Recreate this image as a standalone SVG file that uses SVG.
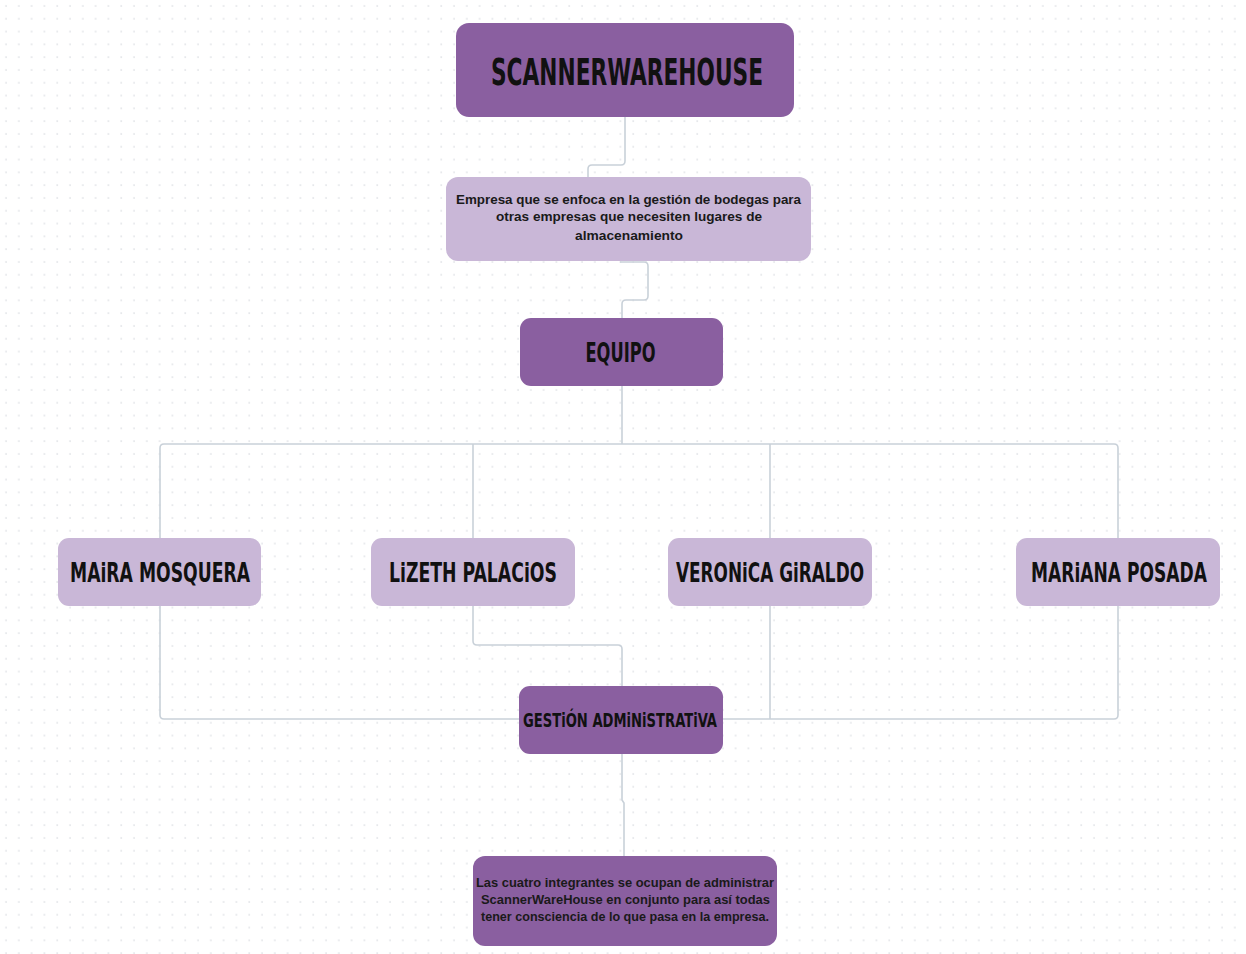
<svg xmlns="http://www.w3.org/2000/svg" width="1246" height="954" viewBox="0 0 1246 954">
<defs>
<pattern id="dots" x="0" y="0" width="12.8" height="12.8" patternUnits="userSpaceOnUse">
<circle cx="6" cy="6" r="0.8" fill="#d3d6dc"/>
</pattern>
<style>
.dark{fill:#8a5fa0}
.light{fill:#c9b7d7}
.lbl{font-family:"DejaVu Sans Condensed","DejaVu Sans",sans-serif;font-weight:bold;fill:#111;text-anchor:middle}
.txt{font-family:"Liberation Sans",Arial,sans-serif;font-weight:bold;font-size:12.5px;fill:#1a1a1a;text-anchor:middle}
.con{fill:none;stroke:#c9d1d9;stroke-width:1.6}
</style>
</defs>
<rect width="1246" height="954" fill="#ffffff"/>
<rect width="1246" height="954" fill="url(#dots)"/>
<g id="connectors">
<path class="con" d="M625,117 V161 Q625,165 621,165 H592 Q588,165 588,169 V177"/>
<path class="con" d="M620,262 H644 Q648,262 648,266 V296 Q648,300 644,300 H626 Q622,300 622,304 V318"/>
<path class="con" d="M622,386 V444"/>
<path class="con" d="M160,538 V448 Q160,444 164,444 H1114 Q1118,444 1118,448 V538"/>
<path class="con" d="M473,444 V538"/>
<path class="con" d="M770,444 V538"/>
<path class="con" d="M473,606 V641 Q473,645 477,645 H618 Q622,645 622,649 V686"/>
<path class="con" d="M160,606 V715 Q160,719 164,719 H519"/>
<path class="con" d="M723,719 H1114 Q1118,719 1118,715 V606"/>
<path class="con" d="M770,606 V719"/>
<path class="con" d="M622,754 V800 L624,803 V856"/>
</g>
<g id="scannerwarehouse">
<rect class="dark" x="456" y="23" width="338" height="94" rx="13"/>
<text class="lbl" x="627" y="85" font-size="38" textLength="272" lengthAdjust="spacingAndGlyphs">SCANNERWAREHOUSE</text>
</g>
<g id="descripcion">
<rect class="light" x="446" y="177" width="365" height="84" rx="12"/>
<text class="txt" x="628.5" y="203.5" textLength="345" lengthAdjust="spacingAndGlyphs">Empresa que se enfoca en la gestión de bodegas para</text>
<text class="txt" x="629" y="221" textLength="266" lengthAdjust="spacingAndGlyphs">otras empresas que necesiten lugares de</text>
<text class="txt" x="629" y="239.5" textLength="108" lengthAdjust="spacingAndGlyphs">almacenamiento</text>
</g>
<g id="equipo">
<rect class="dark" x="520" y="318" width="203" height="68" rx="11"/>
<text class="lbl" x="620.5" y="362" font-size="27" textLength="70" lengthAdjust="spacingAndGlyphs">EQUIPO</text>
</g>
<g id="maira">
<rect class="light" x="58" y="538" width="203" height="68" rx="11"/>
<text class="lbl" x="160" y="582" font-size="26" textLength="180" lengthAdjust="spacingAndGlyphs">MAiRA MOSQUERA</text>
</g>
<g id="lizeth">
<rect class="light" x="371" y="538" width="204" height="68" rx="11"/>
<text class="lbl" x="473" y="582" font-size="26" textLength="168" lengthAdjust="spacingAndGlyphs">LiZETH PALACiOS</text>
</g>
<g id="veronica">
<rect class="light" x="668" y="538" width="204" height="68" rx="11"/>
<text class="lbl" x="770" y="582" font-size="26" textLength="188" lengthAdjust="spacingAndGlyphs">VERONiCA GiRALDO</text>
</g>
<g id="mariana">
<rect class="light" x="1016" y="538" width="204" height="68" rx="11"/>
<text class="lbl" x="1119" y="582" font-size="26" textLength="176" lengthAdjust="spacingAndGlyphs">MARiANA POSADA</text>
</g>
<g id="gestion">
<rect class="dark" x="519" y="686" width="204" height="68" rx="11"/>
<text class="lbl" x="620" y="727" font-size="19" textLength="194" lengthAdjust="spacingAndGlyphs">GESTiÓN ADMiNiSTRATiVA</text>
</g>
<g id="conclusion">
<rect class="dark" x="473" y="856" width="304" height="90" rx="12"/>
<text class="txt" x="625" y="887" textLength="298" lengthAdjust="spacingAndGlyphs">Las cuatro integrantes se ocupan de administrar</text>
<text class="txt" x="625.5" y="904" textLength="289" lengthAdjust="spacingAndGlyphs">ScannerWareHouse en conjunto para así todas</text>
<text class="txt" x="625" y="920.5" textLength="288" lengthAdjust="spacingAndGlyphs">tener consciencia de lo que pasa en la empresa.</text>
</g>
</svg>
